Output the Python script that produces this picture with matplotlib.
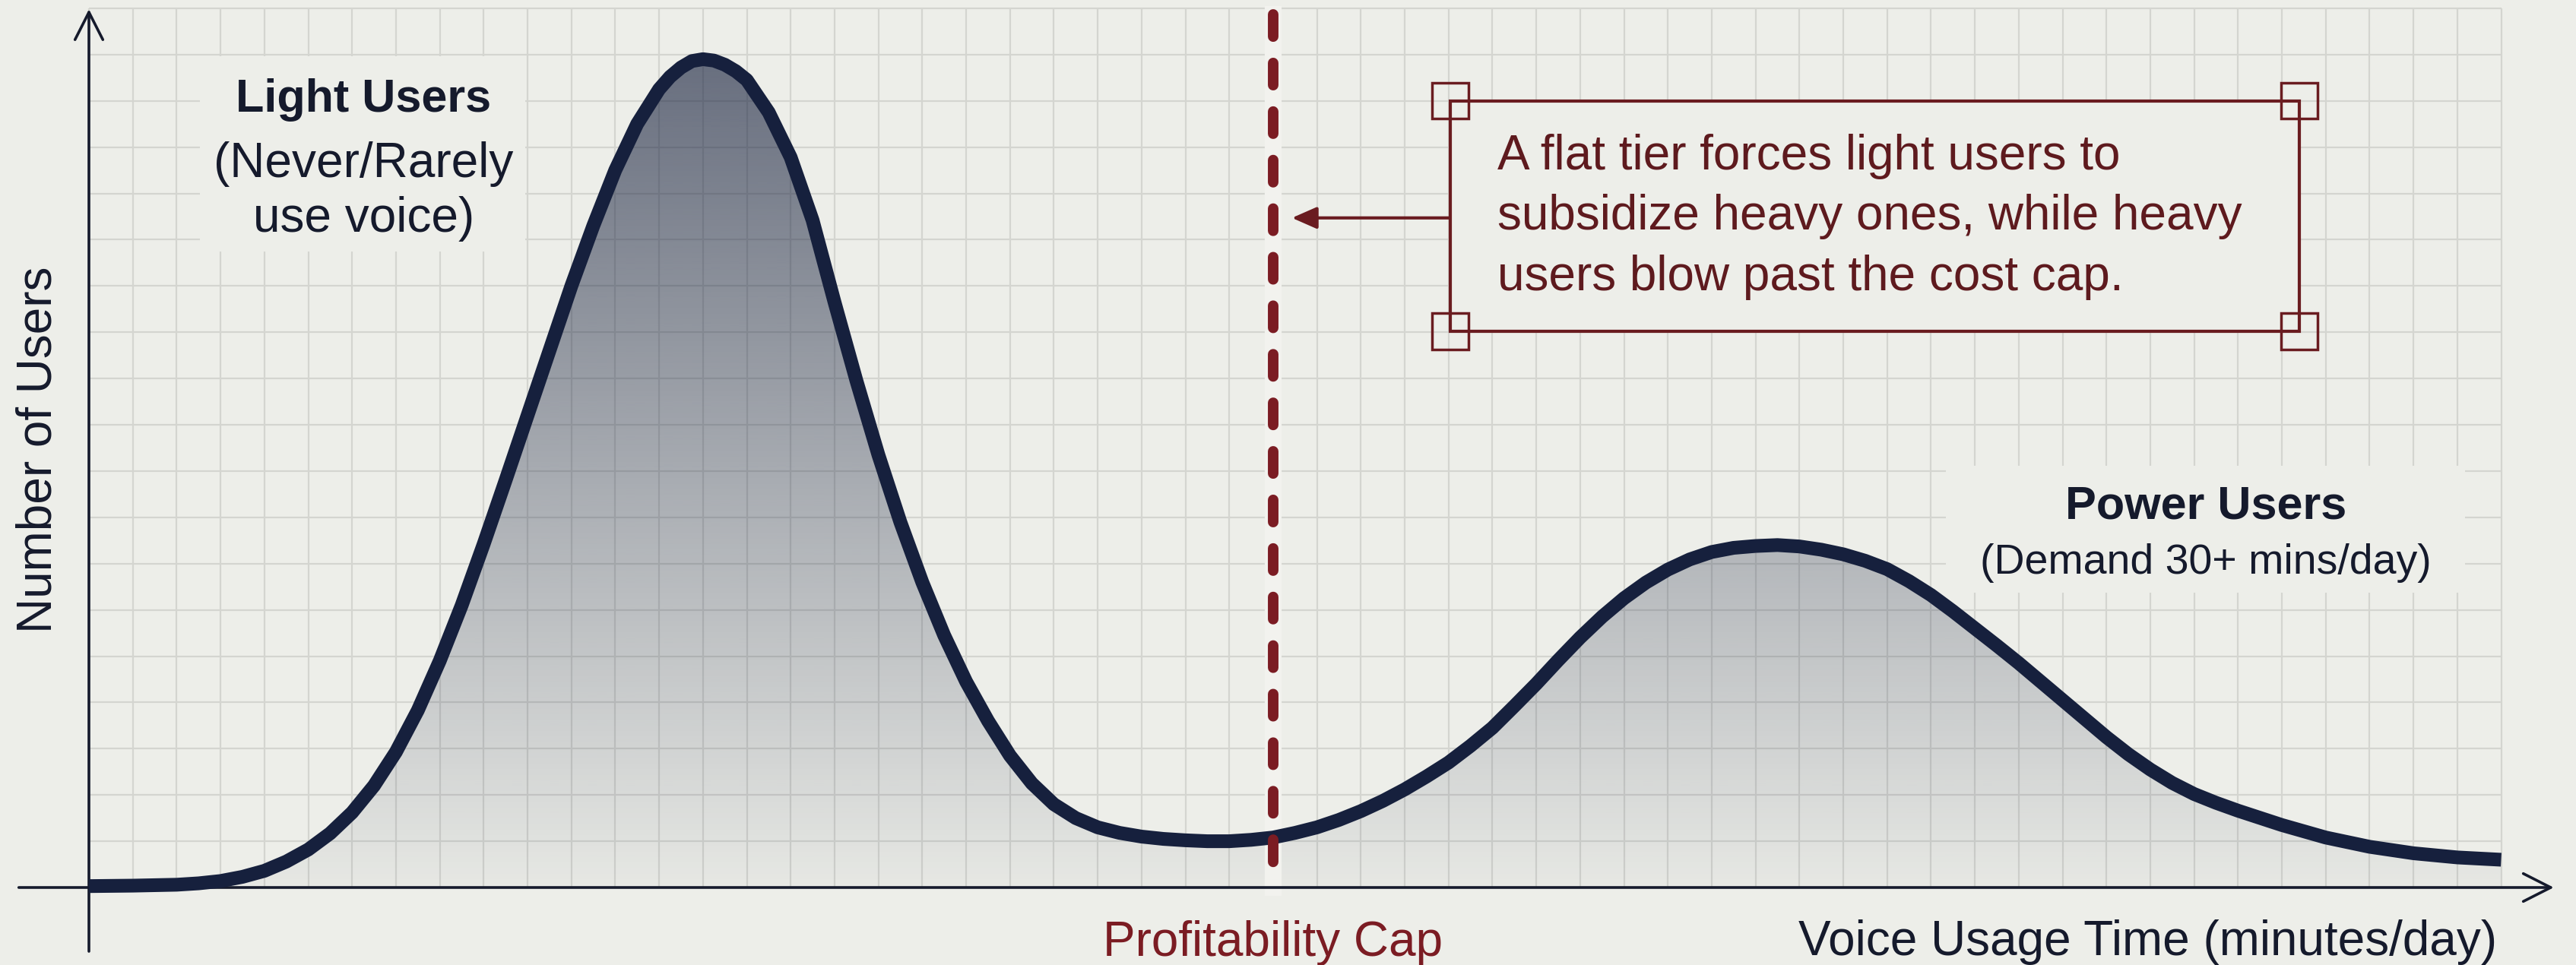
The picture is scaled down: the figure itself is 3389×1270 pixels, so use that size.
import numpy as np
import matplotlib.pyplot as plt
import matplotlib.colors as mcolors
from matplotlib.patches import Rectangle

plt.rcParams['font.family'] = ['Liberation Sans', 'DejaVu Sans']

# curve (x in grid columns, y in grid rows)
usage = [0, 1, 2, 2.5, 3, 3.5, 4, 4.5, 5, 5.5, 6, 6.5, 7, 7.5, 8, 8.5, 9, 9.5, 10, 10.5,
         11, 11.5, 12, 12.5, 13, 13.25, 13.5, 13.75, 14, 14.25, 14.5, 14.75, 15, 15.5, 16, 16.5,
         17, 17.5, 18, 18.5, 19, 19.5, 20, 20.5, 21, 21.5, 22, 22.5, 23, 23.5, 24, 24.5, 25, 25.5,
         26, 26.5, 27, 27.5, 28, 28.5, 29, 29.5, 30, 30.5, 31, 31.5, 32, 32.5, 33, 33.5, 34, 34.5,
         35, 35.5, 36, 36.5, 37, 37.5, 38, 38.5, 39, 39.5, 40, 40.5, 41, 41.5, 42, 42.5, 43, 43.5,
         44, 44.5, 45, 45.5, 46, 46.5, 47, 47.5, 48, 48.5, 49, 50, 51, 52, 53, 54, 55]
users = [0.03, 0.04, 0.06, 0.09, 0.14, 0.23, 0.36, 0.56, 0.82, 1.17, 1.62, 2.2, 2.93, 3.83, 4.9, 6.1,
         7.42, 8.8, 10.2, 11.6, 13.0, 14.3, 15.5, 16.5, 17.25, 17.52, 17.72, 17.86, 17.9, 17.87,
         17.78, 17.64, 17.45, 16.75, 15.78, 14.42, 12.65, 10.95, 9.35, 7.9, 6.6, 5.45, 4.45, 3.6,
         2.85, 2.25, 1.8, 1.5, 1.3, 1.18, 1.1, 1.05, 1.02, 1.0, 1.0, 1.03, 1.08, 1.18, 1.3, 1.46,
         1.65, 1.87, 2.12, 2.4, 2.7, 3.06, 3.45, 3.92, 4.4, 4.91, 5.4, 5.85, 6.25, 6.59, 6.87, 7.09,
         7.25, 7.34, 7.38, 7.4, 7.37, 7.3, 7.2, 7.06, 6.88, 6.62, 6.32, 5.97, 5.6, 5.23, 4.85, 4.45,
         4.05, 3.65, 3.25, 2.88, 2.55, 2.26, 2.02, 1.83, 1.66, 1.35, 1.08, 0.88, 0.74, 0.65, 0.6]

cap_x = 27
cap_label = 'Profitability Cap'
x_label = 'Voice Usage Time (minutes/day)'
y_label = 'Number of Users'
light_title = 'Light Users'
light_sub = ['(Never/Rarely', 'use voice)']
power_title = 'Power Users'
power_sub = '(Demand 30+ mins/day)'
note_lines = ['A flat tier forces light users to',
              'subsidize heavy ones, while heavy',
              'users blow past the cost cap.']

bg = '#edeee9'
grid_c = '#d4d5d0'
navy = '#16203d'
ink = '#151a2c'
red = '#7b1c23'
red_dark = '#6a1c20'
note_c = '#5e1a1e'

fig = plt.figure(figsize=(33.89, 12.70), dpi=100, facecolor=bg)
ax = fig.add_axes([0, 0, 1, 1])
ax.set_facecolor(bg)
ax.axis('off')

# graph paper
ax.vlines(np.arange(0, 56), 0, 19, color=grid_c, lw=1.6, zorder=1)
ax.hlines(np.arange(1, 20), 0, 55, color=grid_c, lw=1.6, zorder=1)

# gradient fill under the curve
ys = np.linspace(0, 19, 400)
grad = np.zeros((400, 1, 4))
grad[..., :3] = mcolors.to_rgb(navy)
grad[:, 0, 3] = np.clip(0.03 + 0.033 * ys, 0, 0.7)
area = ax.fill_between(usage, users, 0, color='none', lw=0)
img = ax.imshow(grad, extent=[0, 55, 0, 19], origin='lower', aspect='auto',
                interpolation='bilinear', zorder=2)
img.set_clip_path(area.get_paths()[0], transform=ax.transData)

# label backgrounds hide the grid
ax.add_patch(Rectangle((2.53, 13.75), 7.42, 4.22, facecolor=bg, edgecolor='none', zorder=2.5))
ax.add_patch(Rectangle((42.34, 6.37), 11.84, 2.74, facecolor=bg, edgecolor='none', zorder=2.5))

# axes with open arrow heads
arrow_kw = dict(arrowstyle='->,head_length=0.65,head_width=0.33', lw=2.6, color=ink,
                mutation_scale=40, shrinkA=0, shrinkB=0)
ax.annotate('', xy=(56.2, 0), xytext=(-1.6, 0), arrowprops=arrow_kw, zorder=4)
ax.annotate('', xy=(0, 18.98), xytext=(0, -1.38), arrowprops=arrow_kw, zorder=4)

ax.plot(usage, users, color=navy, lw=13, solid_capstyle='butt', solid_joinstyle='round', zorder=5)

# profitability cap
ax.plot([cap_x, cap_x], [18.87, 0], color='#f2f2ee', lw=16, zorder=3)
ax.plot([cap_x, cap_x], [18.87, 0], color=red, lw=10, linestyle=(0, (2.1, 2.5)),
        dash_capstyle='round', zorder=6)

# callout box
ax.add_patch(Rectangle((31.04, 12.02), 19.36, 4.98, facecolor=bg, edgecolor=red_dark, lw=3, zorder=3))
for cx in (31.04, 50.40):
    for cy in (12.02, 17.0):
        ax.add_patch(Rectangle((cx - 0.42, cy - 0.39), 0.84, 0.78, facecolor='none',
                               edgecolor=red_dark, lw=2.5, zorder=3.5))
for line, yb in zip(note_lines, [15.52, 14.22, 12.91]):
    ax.text(32.11, yb, line, ha='left', va='baseline', fontsize=46, color=note_c, zorder=4)
ax.annotate('', xy=(27.43, 14.47), xytext=(31.04, 14.47),
            arrowprops=dict(arrowstyle='-|>,head_length=0.5,head_width=0.22', color=red_dark,
                            lw=3, mutation_scale=40, shrinkA=0, shrinkB=0), zorder=4)

# hump labels
ax.text(6.26, 16.77, light_title, ha='center', va='baseline', fontsize=44, fontweight='bold', color=ink, zorder=4)
ax.text(6.26, 15.36, light_sub[0], ha='center', va='baseline', fontsize=46, color=ink, zorder=4)
ax.text(6.26, 14.17, light_sub[1], ha='center', va='baseline', fontsize=46, color=ink, zorder=4)
ax.text(48.27, 7.98, power_title, ha='center', va='baseline', fontsize=44, fontweight='bold', color=ink, zorder=4)
ax.text(48.27, 6.78, power_sub, ha='center', va='baseline', fontsize=40, color=ink, zorder=4)

# axis titles
ax.text(cap_x, -1.48, cap_label, ha='center', va='baseline', fontsize=46, color=red)
ax.text(54.9, -1.46, x_label, ha='right', va='baseline', fontsize=46, color=ink)
ax.text(-1.15, 9.46, y_label, ha='center', va='center', rotation=90, fontsize=46, color=ink)

ax.set_xlim(-117 / 57.7, (3389 - 117) / 57.7)
ax.set_ylim(-102 / 60.9, 1168 / 60.9)

fig.savefig('out.png', dpi=100, facecolor=bg)
